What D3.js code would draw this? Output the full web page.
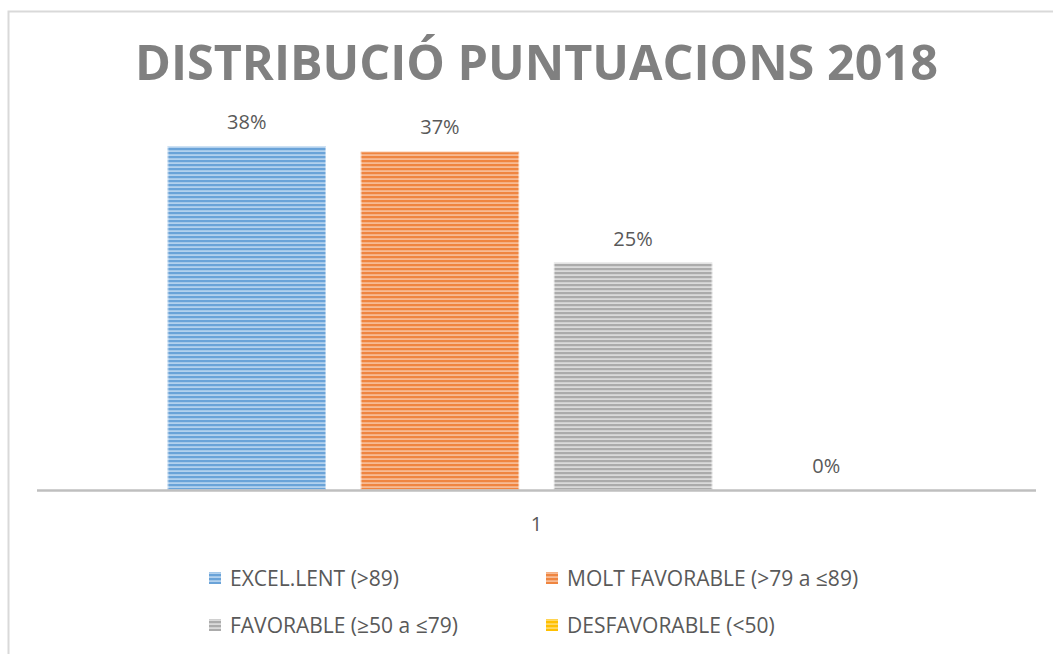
<!DOCTYPE html>
<html>
<head>
<meta charset="utf-8">
<script src="https://cdn.jsdelivr.net/npm/d3@7"></script>
<style>
  body { margin: 0; background: #fff; }
  svg { display: block; font-family: "Open Sans", "Noto Sans", sans-serif; }
</style>
</head>
<body>
<svg width="1053" height="654"></svg>
<script>
const svg = d3.select('svg');

const width = +svg.attr('width');
const height = +svg.attr('height');

// data
const categories = ['1'];
const series = ['EXCEL.LENT (>89)', 'MOLT FAVORABLE (>79 a ≤89)', 'FAVORABLE (≥50 a ≤79)', 'DESFAVORABLE (<50)'];
const values = [0.378, 0.372, 0.25, 0];
const baseColors = ['#6aa3d8', '#ef8540', '#ababab', '#ffc000'];
const lightColors = ['#b3d1ee', '#f7bb94', '#dadada', '#ffd966'];

const title = 'DISTRIBUCIÓ PUNTUACIONS 2018';

// frame
svg.append('rect')
    .attr('x', 8.5).attr('y', 11.5)
    .attr('width', width + 10).attr('height', height + 10)
    .attr('fill', 'none')
    .attr('stroke', '#d9d9d9')
    .attr('stroke-width', 2);

// stripe patterns
const defs = svg.append('defs');
series.forEach((s, i) => {
    const p = defs.append('pattern')
        .attr('id', 'stripe' + i)
        .attr('patternUnits', 'userSpaceOnUse')
        .attr('width', 8).attr('height', 4);
    p.append('rect').attr('width', 8).attr('height', 4).attr('fill', lightColors[i]);
    p.append('rect').attr('width', 8).attr('height', 2.2).attr('fill', baseColors[i]);
});

// scales
const plotLeft = 37, plotRight = 1036, baseline = 490;

const x0 = d3.scaleBand()
    .domain(categories)
    .range([plotLeft, plotRight])
    .paddingOuter(0.177)
    .paddingInner(0);

const x1 = d3.scaleBand()
    .domain(series)
    .range([0, x0.bandwidth()])
    .paddingInner(0.18);

const y = d3.scaleLinear()
    .domain([0, 0.4])
    .range([baseline, baseline - 0.4 * 910]);

const fmt = d3.format('.0%');

// title
svg.append('text')
    .attr('x', (plotLeft + plotRight) / 2)
    .attr('y', 80)
    .attr('text-anchor', 'middle')
    .attr('textLength', 803)
    .attr('lengthAdjust', 'spacingAndGlyphs')
    .attr('font-family', '"Open Sans", sans-serif')
    .attr('font-weight', 'bold')
    .attr('font-size', 48)
    .attr('fill', '#808080')
    .text(title);

// bars
const group = svg.selectAll('g.cat').data(categories)
    .enter().append('g')
        .attr('class', 'cat')
        .attr('transform', d => `translate(${x0(d)},0)`);

const rows = series.map((s, i) => ({ s, i, v: values[i] }));

group.selectAll('rect.bar').data(rows)
    .enter().append('rect')
        .attr('class', 'bar')
        .attr('x', d => x1(d.s))
        .attr('y', d => y(d.v))
        .attr('width', x1.bandwidth())
        .attr('height', d => y(0) - y(d.v))
        .attr('fill', d => `url(#stripe${d.i})`);

// soft edges on bars
group.selectAll('rect.edge').data(rows.filter(d => d.v > 0))
    .enter().append('rect')
        .attr('class', 'edge')
        .attr('x', d => x1(d.s) + 0.5)
        .attr('y', d => y(d.v) + 0.5)
        .attr('width', x1.bandwidth() - 1)
        .attr('height', d => y(0) - y(d.v) - 1)
        .attr('fill', 'none')
        .attr('stroke', '#ffffff')
        .attr('stroke-opacity', 0.45)
        .attr('stroke-width', 1);

group.selectAll('text.val').data(rows)
    .enter().append('text')
        .attr('class', 'val')
        .attr('x', d => x1(d.s) + x1.bandwidth() / 2)
        .attr('y', d => y(d.v) - 17)
        .attr('text-anchor', 'middle')
        .attr('font-size', 20)
        .attr('fill', '#595959')
        .text(d => fmt(d.v));

// axis line
svg.append('line')
    .attr('x1', plotLeft).attr('x2', plotRight)
    .attr('y1', baseline + 0.5).attr('y2', baseline + 0.5)
    .attr('stroke', '#bfbfbf')
    .attr('stroke-width', 2.5);

// category label
svg.selectAll('text.cat').data(categories)
    .enter().append('text')
        .attr('class', 'cat')
        .attr('x', d => x0(d) + x0.bandwidth() / 2)
        .attr('y', 531)
        .attr('text-anchor', 'middle')
        .attr('font-size', 20)
        .attr('fill', '#595959')
        .text(d => d);

// legend
const legendX = [209, 546];
const legendY = [578, 625];
const legend = svg.selectAll('g.legend').data(rows)
    .enter().append('g')
        .attr('class', 'legend')
        .attr('transform', d => `translate(${legendX[d.i % 2]},${legendY[Math.floor(d.i / 2)]})`);

legend.append('rect')
    .attr('x', 0).attr('y', -6)
    .attr('width', 12).attr('height', 12)
    .attr('fill', d => `url(#stripe${d.i})`);

legend.append('text')
    .attr('x', 21)
    .attr('y', 8)
    .attr('font-size', 21)
    .attr('fill', '#595959')
    .text(d => d.s);
</script>
</body>
</html>
